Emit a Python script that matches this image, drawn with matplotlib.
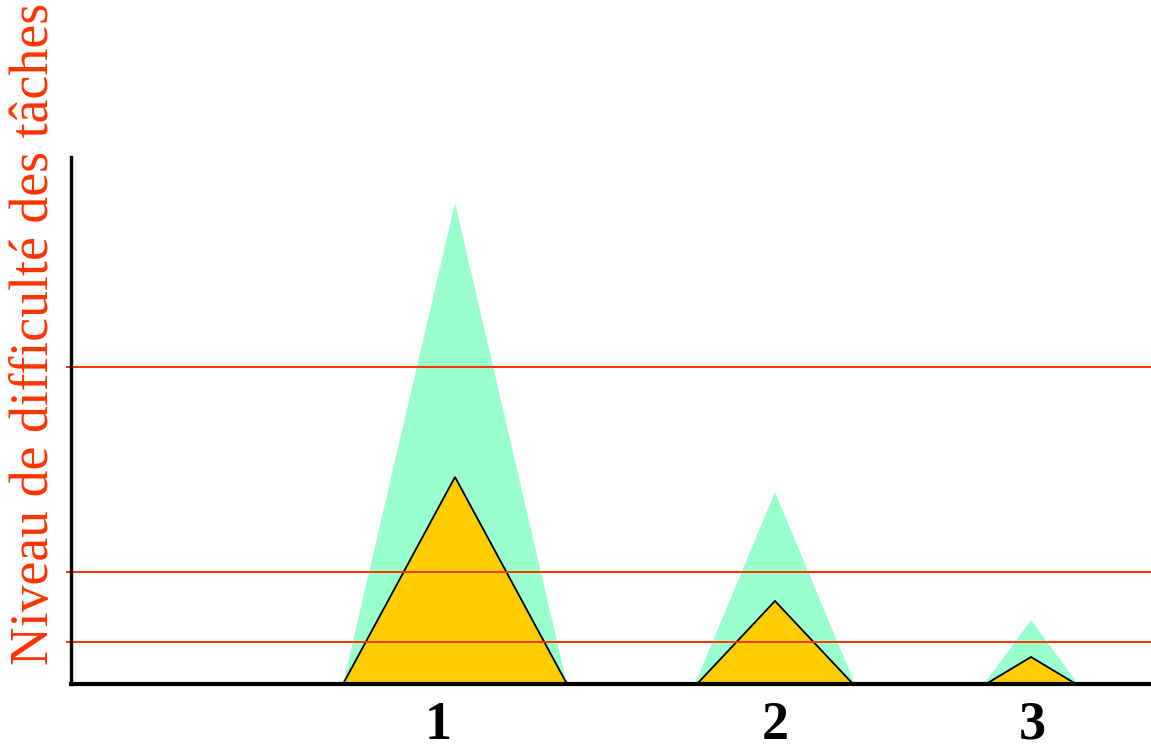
import matplotlib
matplotlib.use('Agg')
import matplotlib.pyplot as plt

# données (unités arbitraires)
centres = [3.84, 7.04, 9.60]
demi_base_vert = [1.12, 0.80, 0.47]
demi_base_jaune = [1.12, 0.78, 0.45]
hauteurs_vert = [4.81, 1.92, 0.64]
hauteurs_jaune = [2.07, 0.83, 0.27]
niveaux = [3.17, 1.12, 0.42]
etiquettes = ['1', '2', '3']
pos_etiquettes = [3.67, 7.04, 9.61]

ROUGE = '#FF3300'
VERT = '#99FFCC'
JAUNE = '#FFCC00'

fig = plt.figure(figsize=(11.51, 7.49), dpi=100)
ax = fig.add_axes([71 / 1151, 1 - 684 / 749, 1 - 71 / 1151, (684 - 157) / 749])

for c, dv, dj, hv, hj in zip(centres, demi_base_vert, demi_base_jaune,
                              hauteurs_vert, hauteurs_jaune):
    ax.fill([c - dv, c, c + dv], [0, hv, 0], color=VERT, lw=0, zorder=1)
    ax.fill([c - dj, c, c + dj], [0, hj, 0], facecolor=JAUNE,
            edgecolor='black', lw=1.3, zorder=2)

ax.hlines(niveaux, -0.05, 10.8, colors=ROUGE, lw=1.4, zorder=3, clip_on=False)

ax.set_xlim(0, 10.8)
ax.set_ylim(0, 5.27)

for s in ['top', 'right']:
    ax.spines[s].set_visible(False)
ax.spines['left'].set_linewidth(2.4)
ax.spines['bottom'].set_linewidth(3)
ax.spines['left'].set_zorder(5)
ax.spines['bottom'].set_zorder(5)

ax.set_yticks([])
ax.set_xticks(pos_etiquettes)
ax.set_xticklabels(etiquettes, fontfamily='Liberation Serif',
                   fontweight='bold', fontsize=39)
ax.tick_params(axis='x', length=0, pad=12)

fig.text(35 / 1151, 1 - 334 / 749, 'Niveau de difficulté des tâches',
         rotation=90, ha='center', va='center', color=ROUGE,
         fontfamily='Liberation Serif', fontsize=38.7)

fig.savefig('out.png', dpi=100)
